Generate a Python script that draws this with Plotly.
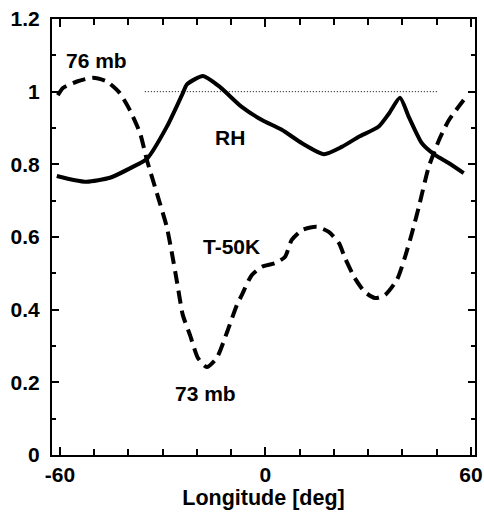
import plotly.graph_objects as go

rh_lon = [-60.9, -56.0, -52.1, -45.4, -38.7, -34.6, -28.8, -24.1, -22.9, -18.2, -13.3, -6.9,
          -1.0, 4.8, 10.7, 17.1, 22.3, 27.3, 33.1, 36.1, 39.3, 41.9, 45.7, 49.5, 53.6, 57.9]
rh_val = [0.768, 0.757, 0.752, 0.763, 0.793, 0.815, 0.903, 0.996, 1.02, 1.043, 1.013, 0.958,
          0.922, 0.895, 0.858, 0.828, 0.848, 0.876, 0.904, 0.94, 0.983, 0.93, 0.858, 0.826, 0.803, 0.776]

t_lon = [-60.6, -59.1, -55.0, -50.4, -46.3, -42.5, -39.6, -36.6, -34.6, -31.7, -28.8, -27.3,
         -25.8, -24.1, -22.0, -19.7, -17.1, -14.2, -11.2, -8.3, -6.9, -4.0, -1.0, 2.8, 5.7,
         7.7, 10.7, 15.0, 18.5, 21.5, 23.2, 26.1, 29.0, 32.0, 34.9, 38.4, 40.7, 42.8, 44.8,
         47.7, 50.7, 53.6, 57.9]
t_val = [0.99, 1.01, 1.028, 1.038, 1.028, 0.996, 0.95, 0.886, 0.812, 0.721, 0.628, 0.556,
         0.476, 0.385, 0.33, 0.267, 0.242, 0.267, 0.338, 0.413, 0.44, 0.495, 0.518, 0.528, 0.545,
         0.592, 0.619, 0.628, 0.614, 0.583, 0.543, 0.487, 0.449, 0.432, 0.44, 0.482, 0.543, 0.611, 0.683,
         0.793, 0.867, 0.922, 0.977]

ref_lon = [-35.2, 50.1]
ref_val = [1.0, 1.0]

labels = ["76 mb", "RH", "T-50K", "73 mb"]
label_lon = [-49.2, -10.4, -9.8, -17.4]
label_val = [1.085, 0.874, 0.574, 0.168]

x_ticks = [-60, 0, 60]
y_ticks = [0, 0.2, 0.4, 0.6, 0.8, 1.0, 1.2]
y_ticktext = ["0", "0.2", "0.4", "0.6", "0.8", "1", "1.2"]

FONT = "Liberation Sans"

fig = go.Figure()
fig.add_trace(go.Scatter(x=ref_lon, y=ref_val, mode="lines",
                         line=dict(color="black", width=1, dash="1px,2px"), showlegend=False))
fig.add_trace(go.Scatter(x=rh_lon, y=rh_val, mode="lines",
                         line=dict(color="black", width=4, shape="spline", smoothing=0.6), showlegend=False))
fig.add_trace(go.Scatter(x=t_lon, y=t_val, mode="lines",
                         line=dict(color="black", width=4, shape="spline", smoothing=0.6, dash="13px,7px"),
                         showlegend=False))

for txt, lx, ly in zip(labels, label_lon, label_val):
    fig.add_annotation(x=lx, y=ly, text="<b>%s</b>" % txt, showarrow=False,
                       font=dict(family=FONT, size=21, color="black"))

fig.update_layout(
    width=484, height=515,
    margin=dict(l=52, r=9, t=19, b=60, autoexpand=False),
    paper_bgcolor="white", plot_bgcolor="white",
    font=dict(family=FONT, size=21, color="black"),
)
fig.update_xaxes(range=[-62.3, 61.2], tickvals=x_ticks, ticktext=["<b>%d</b>" % v for v in x_ticks],
                 ticks="inside", ticklen=8, tickwidth=2, tickcolor="black",
                 minor=dict(dtick=10, tick0=0, ticks="inside", ticklen=6, tickwidth=1.5, tickcolor="black"),
                 showline=True, linewidth=2, linecolor="black", mirror="ticks",
                 showgrid=False, zeroline=False, ticklabeloverflow="allow", automargin=False,
                 title=dict(text="<b>Longitude [deg]</b>", font=dict(size=21.5), standoff=4))
fig.update_yaxes(range=[0, 1.2], tickvals=y_ticks, ticktext=["<b>%s</b>" % t for t in y_ticktext],
                 ticks="inside", ticklen=7, tickwidth=2, tickcolor="black",
                 minor=dict(dtick=0.1, tick0=0, ticks="inside", ticklen=4, tickwidth=1.5, tickcolor="black"),
                 showline=True, linewidth=2, linecolor="black", mirror="ticks",
                 showgrid=False, zeroline=False, ticklabelstandoff=6, ticklabeloverflow="allow",
                 automargin=False)

fig.write_html("out.html", config={"displayModeBar": False},
               post_script="document.body.style.margin='0';document.body.style.overflow='hidden';")
